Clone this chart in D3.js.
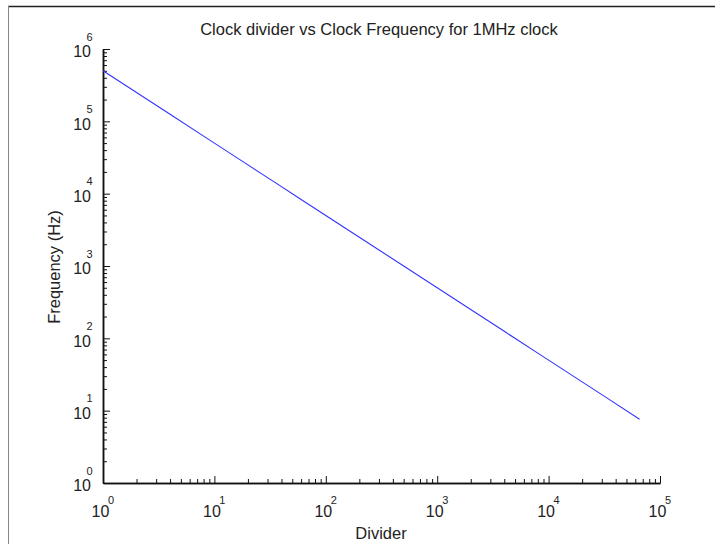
<!DOCTYPE html>
<html>
    <head>
        <meta charset="utf-8">
        <title>clock divider</title>
        <script src="https://d3js.org/d3.v7.min.js"></script>
        <style>
            body { margin: 0; background: white; }
            text { font-family: "Liberation Sans", Arial, sans-serif; fill: #222; }
        </style>
    </head>
    <body>
    <script type="text/javascript">
    //divider values and resulting frequency (Hz)
    var dividers    = [1, 2, 4, 8, 16, 32, 64, 128, 256, 512, 1024, 2048, 4096, 8192, 16384, 32768, 65536];
    var frequencies = [500000, 250000, 125000, 62500, 31250, 15625, 7812.5, 3906.25, 1953.125, 976.5625,
                       488.28, 244.14, 122.07, 61.04, 30.52, 15.26, 7.63];
    var xDecades = [0, 1, 2, 3, 4, 5]; //exponents for x tick labels
    var yDecades = [0, 1, 2, 3, 4, 5, 6]; //exponents for y tick labels

    var size = {width: 715, height: 544};
    var margin = {left: 103, top: 49, right: 55, bottom: 61};
    var w = size.width - margin.left - margin.right;
    var h = size.height - margin.top - margin.bottom;

    var svg = d3.select("body")
                .append("svg")
                .attr("width", size.width)
                .attr("height", size.height);

    //window frame lines
    svg.append("line").attr("x1", 8).attr("x2", size.width).attr("y1", 6.5).attr("y2", 6.5)
       .attr("stroke", "#222").attr("stroke-width", 1.5);
    svg.append("line").attr("x1", 8.5).attr("x2", 8.5).attr("y1", 6).attr("y2", size.height)
       .attr("stroke", "#888");

    var x = d3.scaleLog().domain([1, 1e5]).range([0, w]);
    var y = d3.scaleLog().domain([1, 1e6]).range([h, 0]);

    var g = svg.append("g")
               .attr("transform", "translate(" + margin.left + "," + margin.top + ")");

    function isMinor(d){ return Math.abs(Math.log10(d) - Math.round(Math.log10(d))) > 1e-9; }
    var xMajor = xDecades.map(function(e){ return Math.pow(10, e); });
    var yMajor = yDecades.map(function(e){ return Math.pow(10, e); });

    //minor ticks
    g.append("g").attr("class", "axis")
     .attr("transform", "translate(0," + h + ")")
     .call(d3.axisBottom(x).tickValues(x.ticks().filter(isMinor)).tickSize(-4).tickSizeOuter(0).tickFormat(""));
    g.append("g").attr("class", "axis")
     .call(d3.axisLeft(y).tickValues(y.ticks().filter(isMinor)).tickSize(-4).tickSizeOuter(0).tickFormat(""));

    //major ticks
    var xAxis = g.append("g").attr("class", "axis")
     .attr("transform", "translate(0," + h + ")")
     .call(d3.axisBottom(x).tickValues(xMajor).tickSize(-7).tickSizeOuter(0).tickFormat(""));
    var yAxis = g.append("g").attr("class", "axis")
     .call(d3.axisLeft(y).tickValues(yMajor).tickSize(-7).tickSizeOuter(0).tickFormat(""));

    g.selectAll(".axis .tick text").remove();

    //power-of-ten labels
    xAxis.selectAll(".tick").each(function(d, i){
        var t = d3.select(this);
        t.append("text").attr("x", -3).attr("y", 34).attr("text-anchor", "middle")
         .style("font-size", "16px").text("10");
        t.append("text").attr("x", 7.5).attr("y", 20.5)
         .style("font-size", "11px").text(xDecades[i]);
    });
    yAxis.selectAll(".tick").each(function(d, i){
        var t = d3.select(this);
        t.append("text").attr("x", -12).attr("y", 7.7).attr("text-anchor", "end")
         .style("font-size", "16px").text("10");
        t.append("text").attr("x", -10.5).attr("y", -9)
         .style("font-size", "11px").text(yDecades[i]);
    });

    g.selectAll(".axis path").attr("stroke", "#111").attr("stroke-width", 1.5);
    g.selectAll(".axis line").attr("stroke", "#111");

    //data line
    var pts = dividers.map(function(d, i){ return [d, frequencies[i]]; });
    g.append("path")
     .datum(pts)
     .attr("fill", "none")
     .attr("stroke", "#3333ff")
     .attr("stroke-width", 1.1)
     .attr("d", d3.line().x(function(d){ return x(d[0]); }).y(function(d){ return y(d[1]); }));

    //title and axis labels
    svg.append("text")
       .attr("x", 379).attr("y", 35)
       .attr("text-anchor", "middle")
       .style("font-size", "16.5px")
       .text("Clock divider vs Clock Frequency for 1MHz clock");

    svg.append("text")
       .attr("x", 381).attr("y", 539)
       .attr("text-anchor", "middle")
       .style("font-size", "16.5px")
       .text("Divider");

    svg.append("text")
       .attr("transform", "translate(60," + (margin.top + h / 2 + 1) + ") rotate(-90)")
       .attr("text-anchor", "middle")
       .style("font-size", "16.5px")
       .text("Frequency (Hz)");
    </script>
    </body>
</html>
